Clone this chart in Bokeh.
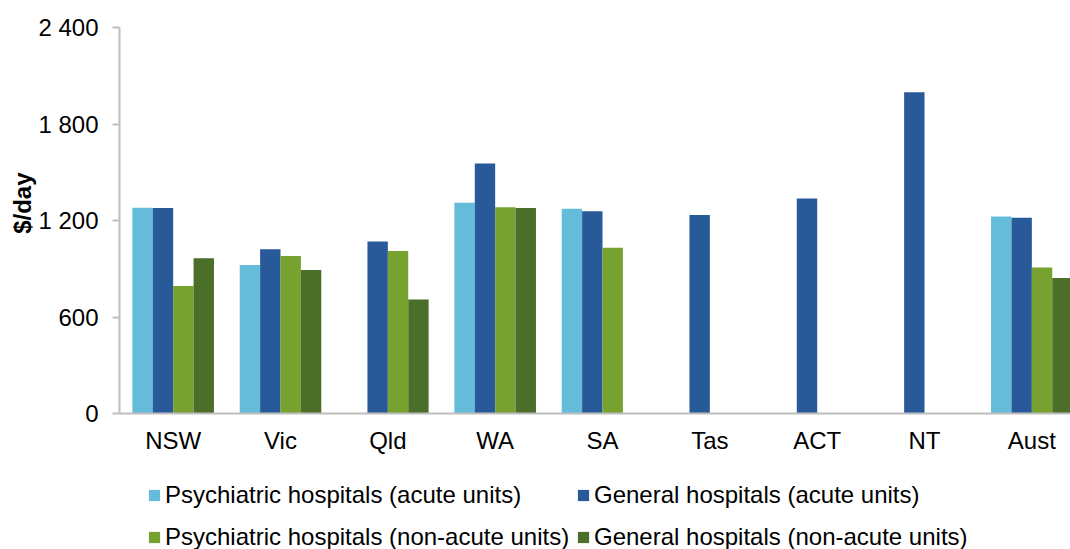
from bokeh.plotting import figure
from bokeh.models import Range1d, FixedTicker, Legend, LegendItem, Title
from bokeh.layouts import column
from bokeh.embed import file_html
from bokeh.resources import INLINE

# ---- data ----
categories = ["NSW", "Vic", "Qld", "WA", "SA", "Tas", "ACT", "NT", "Aust"]
psych_acute = [1279, 923, None, 1310, 1273, None, None, None, 1225]
general_acute = [1277, 1022, 1069, 1554, 1258, 1234, 1337, 1998, 1217]
psych_nonacute = [792, 979, 1010, 1283, 1030, None, None, None, 908]
general_nonacute = [966, 892, 709, 1277, None, None, None, None, 842]
series_names = [
    "Psychiatric hospitals (acute units)",
    "General hospitals (acute units)",
    "Psychiatric hospitals (non-acute units)",
    "General hospitals (non-acute units)",
]
y_ticks = [0, 600, 1200, 1800, 2400]
y_tick_labels = ["0", "600", "1 200", "1 800", "2 400"]
y_title = "$/day"

colors = ["#65BBDA", "#285A99", "#78A22F", "#4B6E29"]
FONT = "Liberation Sans"
AXIS_GRAY = "#BEBEBE"

bar_w = 0.19
offsets = [-1.5 * bar_w, -0.5 * bar_w, 0.5 * bar_w, 1.5 * bar_w]
all_series = [psych_acute, general_acute, psych_nonacute, general_nonacute]


def series_xy(vals, off):
    xs = [i + off for i, v in enumerate(vals) if v is not None]
    tops = [v for v in vals if v is not None]
    return xs, tops


# ---------------- main chart ----------------
p = figure(
    width=1070, height=460,
    x_range=Range1d(-0.5, 8.36), y_range=Range1d(0, 2400),
    output_backend="svg", toolbar_location=None,
    min_border_left=119, min_border_right=0, min_border_top=27, min_border_bottom=47,
)
p.outline_line_color = None
p.xgrid.visible = False
p.ygrid.visible = False
p.background_fill_color = "white"
p.border_fill_color = "white"

for vals, off, col in zip(all_series, offsets, colors):
    xs, tops = series_xy(vals, off)
    p.vbar(x=xs, top=tops, width=bar_w, fill_color=col, line_color=None)

# x axis
p.xaxis.ticker = FixedTicker(ticks=list(range(len(categories))))
p.xaxis.major_label_overrides = {i: c for i, c in enumerate(categories)}
p.xaxis.major_tick_line_color = None
p.xaxis.major_tick_out = 0
p.xaxis.major_tick_in = 0
p.xaxis.minor_tick_line_color = None
p.xaxis.major_label_standoff = 13
p.xaxis.axis_line_color = AXIS_GRAY
p.xaxis.axis_line_width = 2
p.xaxis.major_label_text_font = FONT
p.xaxis.major_label_text_font_size = "24px"
p.xaxis.major_label_text_color = "black"

# y axis
p.yaxis.ticker = FixedTicker(ticks=y_ticks)
p.yaxis.major_label_overrides = {t: l for t, l in zip(y_ticks, y_tick_labels)}
p.yaxis.major_tick_out = 7
p.yaxis.major_tick_in = 0
p.yaxis.major_tick_line_color = AXIS_GRAY
p.yaxis.major_tick_line_width = 2
p.yaxis.minor_tick_line_color = None
p.yaxis.axis_line_color = AXIS_GRAY
p.yaxis.axis_line_width = 2
p.yaxis.major_label_standoff = 14
p.yaxis.major_label_text_font = FONT
p.yaxis.major_label_text_font_size = "24px"
p.yaxis.major_label_text_color = "black"

# y title as a side title (offset along the axis)
p.add_layout(Title(
    text=y_title, align="right", offset=145, standoff=0,
    text_font=FONT, text_font_size="24px", text_font_style="bold", text_color="black",
), "left")

# ---------------- legend strip ----------------
# (its frame is aligned with the main chart's frame by the column layout)
lf = figure(
    width=1070, height=89, x_range=Range1d(-0.5, 8.36), y_range=Range1d(0, 2400),
    output_backend="svg", toolbar_location=None,
    x_axis_type=None, y_axis_type=None,
    min_border_left=119, min_border_right=0, min_border_top=0, min_border_bottom=0,
)
lf.outline_line_color = None
lf.grid.visible = False
lf.background_fill_color = "white"
lf.border_fill_color = "white"

# hidden proxy renderers carrying the same series, used only for the legend swatches
proxies = []
for vals, off, col in zip(all_series, offsets, colors):
    xs, tops = series_xy(vals, off)
    proxies.append(lf.vbar(x=xs, top=tops, width=bar_w, fill_color=col,
                           line_color=None, visible=False))


def make_legend(idx, vx):
    return Legend(
        items=[LegendItem(label=series_names[i], renderers=[proxies[i]]) for i in idx],
        location=(vx, -2), orientation="vertical",
        glyph_width=14, glyph_height=14, label_height=28, spacing=14,
        label_standoff=4, padding=0, margin=0, click_policy="none",
        inactive_fill_alpha=0,
        border_line_color=None, background_fill_alpha=0,
        label_text_font=FONT, label_text_font_size="24px", label_text_color="black",
    )


lf.add_layout(make_legend([0, 2], 28), "center")
lf.add_layout(make_legend([1, 3], 457), "center")

layout = column(p, lf, spacing=0)
open("out.html", "w").write(file_html(layout, INLINE))
